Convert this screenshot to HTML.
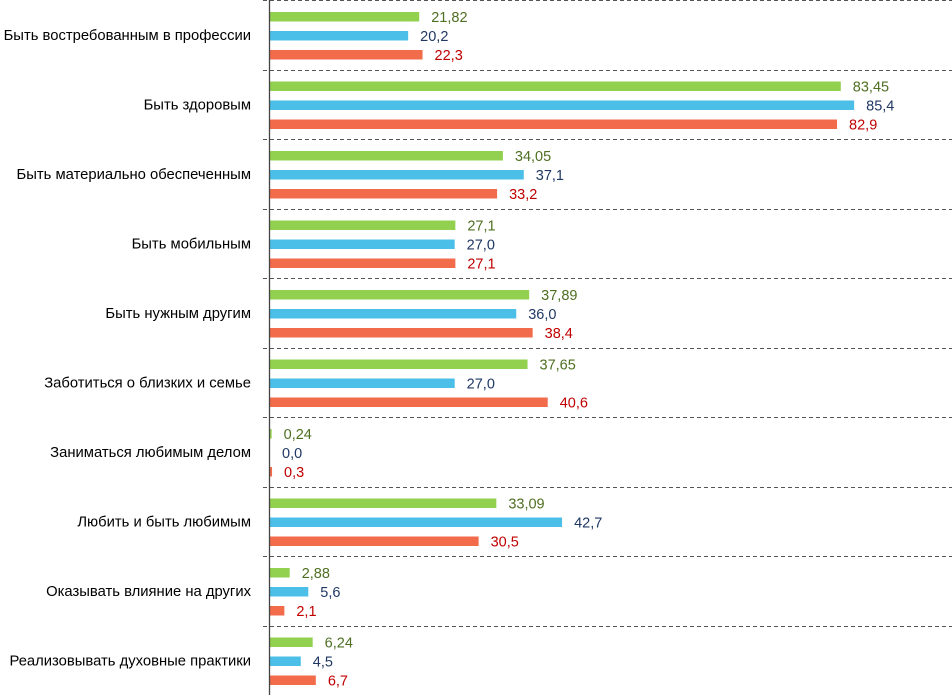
<!DOCTYPE html>
<html><head><meta charset="utf-8"><style>
html,body{margin:0;padding:0;background:#fff}
svg{display:block;font-family:"Liberation Sans",sans-serif}
</style></head><body>
<svg id="chart" width="952" height="695"></svg>
<script>
const categories=["Быть востребованным в профессии","Быть здоровым","Быть материально обеспеченным","Быть мобильным","Быть нужным другим","Заботиться о близких и семье","Заниматься любимым делом","Любить и быть любимым","Оказывать влияние на других","Реализовывать духовные практики"];
const seriesGreen=[21.82,83.45,34.05,27.1,37.89,37.65,0.24,33.09,2.88,6.24];
const seriesBlue=[20.2,85.4,37.1,27.0,36.0,27.0,0.0,42.7,5.6,4.5];
const seriesRed=[22.3,82.9,33.2,27.1,38.4,40.6,0.3,30.5,2.1,6.7];
const labelsGreen=["21,82","83,45","34,05","27,1","37,89","37,65","0,24","33,09","2,88","6,24"];
const labelsBlue=["20,2","85,4","37,1","27,0","36,0","27,0","0,0","42,7","5,6","4,5"];
const labelsRed=["22,3","82,9","33,2","27,1","38,4","40,6","0,3","30,5","2,1","6,7"];

const svg=document.getElementById('chart');
const NS='http://www.w3.org/2000/svg';
const x0=270, k=6.84, gh=69.5;
const x=v=>x0+v*k;
function mk(t,a){const e=document.createElementNS(NS,t);for(const n in a)e.setAttribute(n,a[n]);svg.appendChild(e);return e;}
const series=[
 {vals:seriesGreen,labs:labelsGreen,fill:"#92d050",tc:"#4f6f22",off:12,name:"green"},
 {vals:seriesBlue,labs:labelsBlue,fill:"#4bbfe8",tc:"#1f3864",off:31,name:"blue"},
 {vals:seriesRed,labs:labelsRed,fill:"#f26b4b",tc:"#c00000",off:50,name:"red"}];
for(let i=0;i<=categories.length;i++){
  const y=Math.round(i*gh)+0.5;
  const l=mk('line',{x1:263,x2:952,y1:y,y2:y,stroke:"#555","stroke-dasharray":"4,3","stroke-width":1});
  
  
}
categories.forEach((c,i)=>{
  const top=i*gh;
  const t=mk('text',{x:251,y:top+40,"text-anchor":"end","font-size":14.8,fill:"#000"});
  t.textContent=c;
  
  
  series.forEach(s=>{
    const v=s.vals[i];
    const r=mk('rect',{x:x0,y:top+s.off,width:v>0?Math.max(v*k,1.5):0,height:9.5,fill:s.fill});
    
    
    const lt=mk('text',{x:x(v)+12,y:top+s.off+10,"font-size":14.5,fill:s.tc});
    lt.textContent=s.labs[i];
    
    
  });
});
const ax=mk('line',{x1:x0-0.5,x2:x0-0.5,y1:0,y2:695,stroke:"#444","stroke-width":1.3});


</script>
</body></html>
